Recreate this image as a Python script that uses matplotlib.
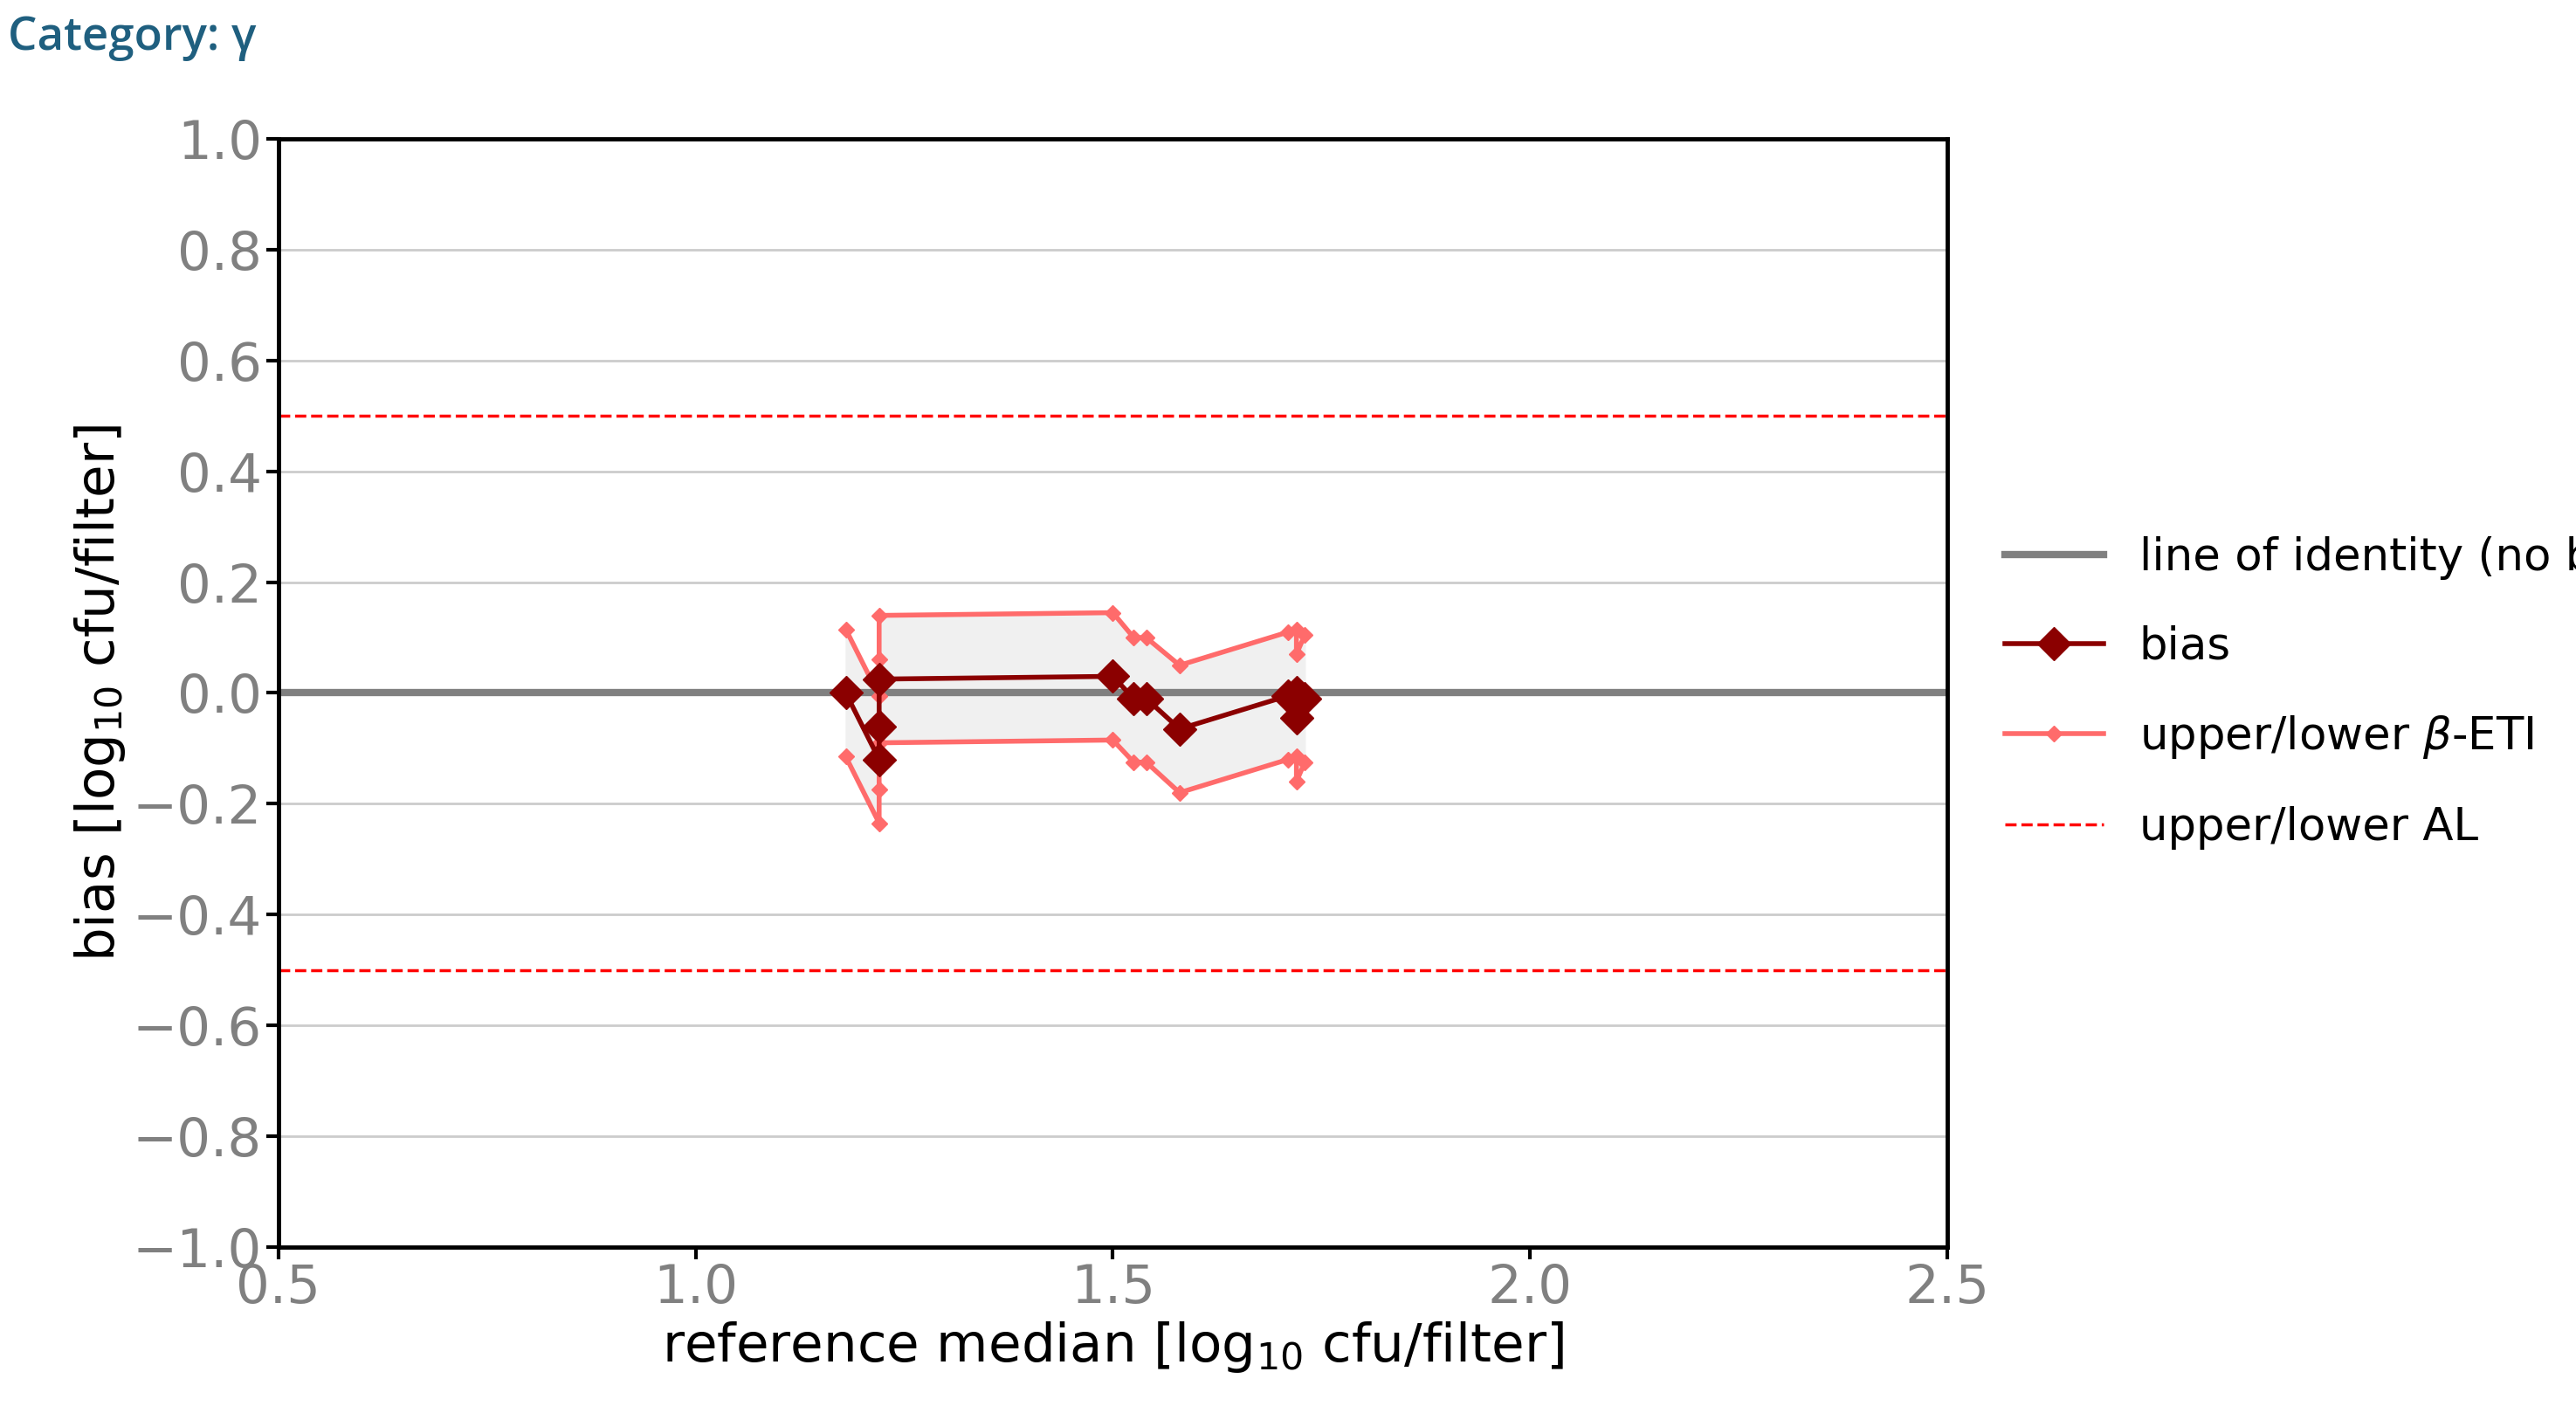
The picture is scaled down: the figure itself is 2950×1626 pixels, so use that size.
import matplotlib
matplotlib.use("Agg")
import matplotlib.pyplot as plt
import numpy as np

x = [1.18, 1.22, 1.22, 1.22, 1.50, 1.525, 1.54, 1.58, 1.71, 1.72, 1.72, 1.73]
bias = [0.0, -0.12, -0.06, 0.025, 0.03, -0.01, -0.01, -0.065, -0.005, 0.0, -0.045, -0.01]
upper = [0.115, -0.005, 0.06, 0.14, 0.145, 0.10, 0.10, 0.05, 0.11, 0.115, 0.07, 0.105]
lower = [-0.115, -0.235, -0.175, -0.09, -0.085, -0.125, -0.125, -0.18, -0.12, -0.115, -0.16, -0.125]
al = 0.5

fig = plt.figure(figsize=(29.5, 16.26), dpi=100)
ax = fig.add_axes([0.108, 0.122, 0.648, 0.78])
ax.fill_between(x, lower, upper, color='#f0f0f0', zorder=1)
ax.axhline(0, color='grey', lw=6, zorder=2, label='line of identity (no bias)')
ax.plot(x, bias, color='darkred', marker='D', ms=19, lw=4, zorder=4, label='bias')
ax.plot(x, upper, color='#ff6b6b', marker='D', ms=9, lw=4, zorder=3, label='upper/lower $\\beta$-ETI')
ax.plot(x, lower, color='#ff6b6b', marker='D', ms=9, lw=4, zorder=3)
ax.axhline(al, color='red', ls='--', lw=2.5, zorder=2, label='upper/lower AL')
ax.axhline(-al, color='red', ls='--', lw=2.5, zorder=2)
ax.set_xlim(0.5, 2.5)
ax.set_ylim(-1, 1)
ax.set_yticks(np.arange(-1, 1.01, 0.2))
ax.set_xticks([0.5, 1.0, 1.5, 2.0, 2.5])
ax.grid(axis='y', color='#cccccc', lw=2, zorder=0)
ax.set_axisbelow(True)
for s in ax.spines.values():
    s.set_linewidth(3.5)
ax.tick_params(labelsize=44, labelcolor='grey', width=3, length=10)
ax.set_xlabel('reference median [log$_{10}$ cfu/filter]', fontsize=44)
ax.set_ylabel('bias [log$_{10}$ cfu/filter]', fontsize=44)
ax.legend(loc='center left', bbox_to_anchor=(1.01, 0.5), frameon=False, fontsize=37, handlelength=2.2, labelspacing=1.0)
fig.text(0.003, 0.965, 'Category: γ', fontsize=38, color='#1f5f7f', family='Open Sans', weight='semibold')
fig.savefig('out.png', dpi=100)
